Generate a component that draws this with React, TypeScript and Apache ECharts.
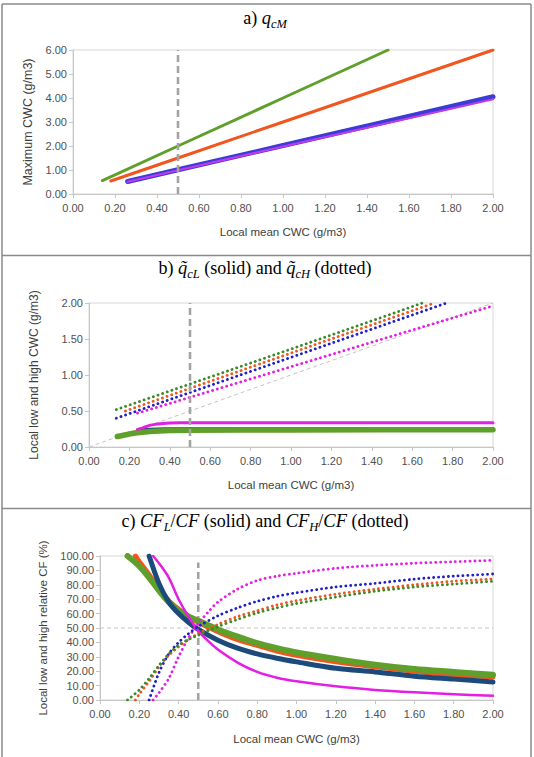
import React, { useEffect, useRef } from "react";
import * as echarts from "echarts";

// ---------- (a) maximum CWC vs local mean CWC ----------
const qcmGreenX = [0.14, 0.5, 1.0, 1.5];
const qcmGreenY = [0.56, 2.0, 4.0, 6.0];
const qcmOrangeX = [0.18, 0.5, 1.0, 1.5, 2.0];
const qcmOrangeY = [0.54, 1.5, 3.0, 4.5, 6.0];
const qcmBlueX = [0.26, 0.5, 1.0, 1.5, 2.0];
const qcmBlueY = [0.52, 1.01, 2.02, 3.03, 4.05];
const qcmMagentaX = [0.26, 0.5, 1.0, 1.5, 2.0];
const qcmMagentaY = [0.51, 0.99, 1.98, 2.96, 3.95];

// ---------- (b) local low (solid) and high (dotted) CWC ----------
const qHGreenX = [0.135, 0.5, 1.0, 1.5, 1.65];
const qHGreenY = [0.52, 0.875, 1.36, 1.85, 2.0];
const qHOrangeX = [0.18, 0.5, 1.0, 1.5, 1.71];
const qHOrangeY = [0.5, 0.815, 1.305, 1.795, 2.0];
const qHBlueX = [0.135, 0.5, 1.0, 1.5, 1.77];
const qHBlueY = [0.4, 0.757, 1.245, 1.735, 2.0];
const qHMagentaX = [0.24, 0.5, 1.0, 1.5, 2.0];
const qHMagentaY = [0.47, 0.69, 1.115, 1.54, 1.96];

const qLGreenX = [0.14, 0.2, 0.25, 0.3, 0.4, 0.5, 1.0, 2.0];
const qLGreenY = [0.145, 0.18, 0.2, 0.215, 0.228, 0.232, 0.237, 0.24];
const qLOrangeX = [0.18, 0.22, 0.27, 0.35, 0.5, 2.0];
const qLOrangeY = [0.18, 0.205, 0.225, 0.24, 0.245, 0.25];
const qLBlueX = [0.25, 0.3, 0.4, 0.5, 2.0];
const qLBlueY = [0.245, 0.255, 0.26, 0.262, 0.262];
const qLMagentaX = [0.24, 0.27, 0.3, 0.34, 0.4, 0.45, 2.0];
const qLMagentaY = [0.245, 0.27, 0.3, 0.32, 0.333, 0.336, 0.336];

const oneToOneX = [0, 2];
const oneToOneY = [0, 2];

// ---------- (c) relative low (solid) and high (dotted) cloud fraction ----------
const cfGreenX = [0.14, 0.2, 0.25, 0.3, 0.35, 0.4, 0.45, 0.5, 0.6, 0.7, 0.8, 0.9, 1.0, 1.2, 1.4, 1.6, 1.8, 2.0];
const cfLGreen = [100, 93, 85, 76, 68, 62, 58, 55, 49, 44, 39.5, 36, 33, 28.5, 24.5, 21.5, 19.5, 17.5];
const cfHGreen = [0, 7, 15, 24, 32, 38, 42, 45, 51, 56, 60.5, 64, 67, 71.5, 75.5, 78.5, 80.5, 82.5];

const cfOrangeX = [0.18, 0.2, 0.25, 0.3, 0.35, 0.4, 0.45, 0.5, 0.6, 0.7, 0.8, 0.9, 1.0, 1.2, 1.4, 1.6, 1.8, 2.0];
const cfLOrange = [100, 96, 87, 77, 69, 63, 58, 54, 47.5, 42, 38, 34, 31, 26.5, 23, 20, 17.5, 16];
const cfHOrange = [0, 4, 13, 23, 31, 37, 42, 46, 52.5, 58, 62, 66, 69, 73.5, 77, 80, 82.5, 84];

const cfBlueX = [0.25, 0.3, 0.35, 0.4, 0.45, 0.5, 0.6, 0.7, 0.8, 0.9, 1.0, 1.2, 1.4, 1.6, 1.8, 2.0];
const cfLBlue = [100, 81, 68, 60, 54, 49, 41.5, 36, 32, 29, 26.5, 22, 19.5, 16.5, 14.5, 12.5];
const cfHBlue = [0, 19, 32, 40, 46, 51, 58.5, 64, 68.5, 72, 74.5, 78.5, 81, 84, 86, 87.5];

const cfMagentaX = [0.27, 0.3, 0.35, 0.4, 0.45, 0.5, 0.55, 0.6, 0.7, 0.8, 0.9, 1.0, 1.2, 1.4, 1.6, 1.8, 2.0];
const cfLMagenta = [100, 95, 85, 70, 58, 48, 41, 35, 26, 19.5, 15.5, 13, 9.5, 7, 5.3, 4, 3];
const cfHMagenta = [0, 5, 15, 30, 43, 53, 61, 68, 77, 83, 86, 88, 91.5, 93.5, 95, 96, 97];

const threshold = 0.5;
const halfLevel = 50;

const SANS = "'Liberation Sans', Arial, sans-serif";
const SERIF = "'Liberation Serif', 'Times New Roman', serif";

const GREEN = "#5f9f2b";
const GREEN_DOT = "#3a8a2a";
const ORANGE = "#f0561d";
const BLUE = "#3b3bd6";
const NAVY = "#1c4a7a";
const BLUE_DOT = "#1f1fc4";
const MAGENTA = "#e41ee4";

const pairs = (xs: number[], ys: number[]) => xs.map((x, i) => [x, ys[i]]);

function line(
  idx: number,
  xs: number[],
  ys: number[],
  color: string,
  width: number,
  dotted = false,
  smooth = false
) {
  return {
    type: "line",
    xAxisIndex: idx,
    yAxisIndex: idx,
    data: pairs(xs, ys),
    showSymbol: false,
    silent: true,
    clip: true,
    smooth: smooth ? 0.3 : false,
    lineStyle: dotted
      ? { color, width: 2.8, type: [0.1, 4.8], cap: "round" }
      : { color, width, cap: "round", join: "round" },
  };
}

function dashedGuide(idx: number, xs: number[], ys: number[], color: string, width: number, dash: number[]) {
  return {
    type: "line",
    xAxisIndex: idx,
    yAxisIndex: idx,
    data: pairs(xs, ys),
    showSymbol: false,
    silent: true,
    lineStyle: { color, width, type: dash },
  };
}

const axisColor = "#c6c6c6";

function xAxis(idx: number, nameGap: number) {
  return {
    gridIndex: idx,
    type: "value",
    min: 0,
    max: 2,
    interval: 0.2,
    name: "Local mean CWC (g/m3)",
    nameLocation: "middle",
    nameGap,
    nameTextStyle: { fontFamily: SANS, fontSize: 11.5, color: "#404040" },
    axisLine: { show: true, lineStyle: { color: axisColor, width: 1 } },
    axisTick: { show: true, length: 4, lineStyle: { color: axisColor } },
    axisLabel: {
      formatter: (v: number) => v.toFixed(2),
      fontFamily: SANS,
      fontSize: 11,
      color: "#505050",
      margin: 8,
    },
    splitLine: { show: false },
  };
}

function yAxis(idx: number, name: string, max: number, interval: number, nameGap: number, fontSize: number) {
  return {
    gridIndex: idx,
    type: "value",
    min: 0,
    max,
    interval,
    name,
    nameLocation: "middle",
    nameGap,
    nameTextStyle: { fontFamily: SANS, fontSize, color: "#404040" },
    axisLine: { show: true, lineStyle: { color: axisColor, width: 1 } },
    axisTick: { show: true, length: 4, lineStyle: { color: axisColor } },
    axisLabel: {
      formatter: (v: number) => v.toFixed(2),
      fontFamily: SANS,
      fontSize: 11,
      color: "#505050",
      margin: 6,
    },
    splitLine: { show: false },
  };
}

const titleRich = {
  n: { fontFamily: SERIF, fontSize: 18, color: "#111", lineHeight: 24, verticalAlign: "middle" },
  it: { fontFamily: SERIF, fontStyle: "italic", fontSize: 18.5, color: "#111", lineHeight: 24, verticalAlign: "middle" },
  sub: { fontFamily: SERIF, fontStyle: "italic", fontSize: 12.5, color: "#111", lineHeight: 13, verticalAlign: "bottom" },
};

function panelTitle(y: number, text: string) {
  return {
    type: "text",
    x: 265,
    y,
    style: {
      text,
      rich: titleRich,
      align: "center",
      verticalAlign: "middle",
    },
    silent: true,
  };
}

const frameColor = "#8a8a8a";
function frameLine(x1: number, y1: number, x2: number, y2: number) {
  return {
    type: "line",
    shape: { x1, y1, x2, y2 },
    style: { stroke: frameColor, lineWidth: 1.5 },
    silent: true,
  };
}

const option = {
  animation: false,
  backgroundColor: "#ffffff",
  grid: [
    { left: 73, top: 50, width: 420, height: 144, show: true, borderColor: "#d6d6d6", borderWidth: 1, backgroundColor: "transparent" },
    { left: 89, top: 303, width: 404, height: 144, show: true, borderColor: "#d6d6d6", borderWidth: 1, backgroundColor: "transparent" },
    { left: 100, top: 556, width: 393, height: 144, show: true, borderColor: "#d6d6d6", borderWidth: 1, backgroundColor: "transparent" },
  ],
  xAxis: [xAxis(0, 32), xAxis(1, 32), xAxis(2, 33)],
  yAxis: [
    yAxis(0, "Maximum CWC (g/m3)", 6, 1, 33, 12.5),
    yAxis(1, "Local low and high CWC (g/m3)", 2, 0.5, 49, 12),
    yAxis(2, "Local low and high relative CF (%)", 100, 10, 49, 11.5),
  ],
  graphic: [
    frameLine(2, 4, 531, 4),
    frameLine(2, 4, 2, 757),
    frameLine(531, 4, 531, 757),
    frameLine(2, 255.5, 531, 255.5),
    frameLine(2, 508.5, 531, 508.5),
    panelTitle(18, "{n|a) }{it|q}{sub|cM}"),
    panelTitle(268, "{n|b) }{it|q\u0303}{sub|cL}{n| (solid) and }{it|q\u0303}{sub|cH}{n| (dotted)}"),
    panelTitle(521, "{n|c) }{it|CF}{sub|L}{n|/}{it|CF}{n| (solid) and }{it|CF}{sub|H}{n|/}{it|CF}{n| (dotted)}"),
  ],
  series: [
    // (a)
    line(0, qcmGreenX, qcmGreenY, GREEN, 3),
    line(0, qcmOrangeX, qcmOrangeY, ORANGE, 3),
    line(0, qcmBlueX, qcmBlueY, BLUE, 5),
    line(0, qcmMagentaX, qcmMagentaY, "#c03ae8", 2.2),
    dashedGuide(0, [threshold, threshold], [0, 6], "#a3a3a3", 2.6, [7, 4]),

    // (b)
    dashedGuide(1, oneToOneX, oneToOneY, "#c4c4c4", 1, [4, 3]),
    line(1, qLOrangeX, qLOrangeY, ORANGE, 3, false, true),
    line(1, qLBlueX, qLBlueY, NAVY, 2, false, true),
    line(1, qLGreenX, qLGreenY, GREEN, 5.5, false, true),
    line(1, qLMagentaX, qLMagentaY, MAGENTA, 3, false, true),
    line(1, qHMagentaX, qHMagentaY, MAGENTA, 0, true),
    line(1, qHBlueX, qHBlueY, BLUE_DOT, 0, true),
    line(1, qHOrangeX, qHOrangeY, ORANGE, 0, true),
    line(1, qHGreenX, qHGreenY, GREEN_DOT, 0, true),
    dashedGuide(1, [threshold, threshold], [0, 2], "#a3a3a3", 2.6, [7, 4]),

    // (c)
    dashedGuide(2, [0, 2], [halfLevel, halfLevel], "#c4c4c4", 1, [4, 3]),
    dashedGuide(2, [threshold, threshold], [0, 95.5], "#a3a3a3", 2.6, [7, 4]),
    line(2, cfOrangeX, cfLOrange, ORANGE, 5, false, true),
    line(2, cfGreenX, cfLGreen, GREEN, 6, false, true),
    line(2, cfBlueX, cfLBlue, NAVY, 5, false, true),
    line(2, cfMagentaX, cfLMagenta, MAGENTA, 2.5, false, true),
    line(2, cfMagentaX, cfHMagenta, MAGENTA, 0, true, true),
    line(2, cfBlueX, cfHBlue, BLUE_DOT, 0, true, true),
    line(2, cfOrangeX, cfHOrange, ORANGE, 0, true, true),
    line(2, cfGreenX, cfHGreen, GREEN_DOT, 0, true, true),
  ],
};

export default function App() {
  const ref = useRef<HTMLDivElement>(null);
  useEffect(() => {
    if (!ref.current) return;
    const chart = echarts.init(ref.current, null, { renderer: "svg" });
    chart.setOption(option as any);
    return () => chart.dispose();
  }, []);
  return (
    <div
      ref={ref}
      style={{ position: "absolute", left: 0, top: 0, width: 534, height: 757, background: "#fff" }}
    />
  );
}
